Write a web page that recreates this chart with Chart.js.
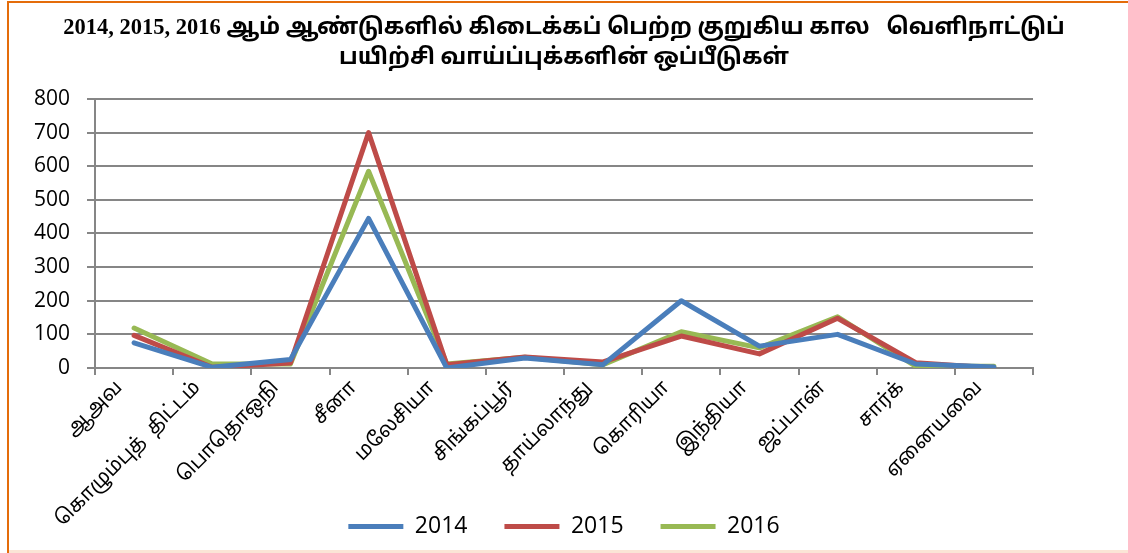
<!DOCTYPE html>
<html>
<head>
<meta charset="utf-8">
<script src="https://cdn.jsdelivr.net/npm/chart.js@4"></script>
<style>
html,body{margin:0;padding:0;background:#fff;}
#wrap{position:absolute;left:0;top:0;width:1128px;height:553px;}
</style>
</head>
<body>
<div id="wrap"><canvas id="c" width="1128" height="553"></canvas></div>
<script>
const titleLines = ["2014, 2015, 2016 ஆம் ஆண்டுகளில் கிடைக்கப் பெற்ற குறுகிய கால   வெளிநாட்டுப்", "பயிற்சி வாய்ப்புக்களின் ஒப்பீடுகள்"];
const categories = ["ஆஅவ", "கொழும்புத்  திட்டம்", "பொதொஒநி", "சீனா", "மலேசியா", "சிங்கப்பூர்", "தாய்லாந்து", "கொரியா", "இந்தியா", "ஜப்பான்", "சார்க்", "ஏனையவை"];
const seriesNames = ["2014", "2015", "2016"];
const values2014 = [75, 2, 25, 445, 0, 30, 10, 200, 65, 100, 12, 3];
const values2015 = [97, 2, 15, 700, 10, 33, 18, 95, 42, 148, 16, 0];
const values2016 = [119, 12, 12, 585, 12, 32, 10, 108, 60, 152, 5, 5];
const yTicks = [0, 100, 200, 300, 400, 500, 600, 700, 800];

const colors = ["#4A7EBB", "#BE4B48", "#98B954"];
const seriesValues = [values2014, values2015, values2016];

const PAD_BOTTOM = 5;

const framePlugin = {
  id: 'frame',
  beforeDraw(chart) {
    const ctx = chart.ctx;
    ctx.save();
    ctx.fillStyle = '#ffffff';
    ctx.fillRect(0, 0, chart.width, chart.height);
    ctx.strokeStyle = '#E46C0A';
    ctx.lineWidth = 2;
    ctx.beginPath();
    ctx.moveTo(8, 553);
    ctx.lineTo(8, 2);
    ctx.lineTo(1128, 2);
    ctx.stroke();
    ctx.strokeStyle = '#FBE5D6';
    ctx.lineWidth = 3;
    ctx.beginPath();
    ctx.moveTo(9, 551.5);
    ctx.lineTo(1128, 551.5);
    ctx.stroke();
    ctx.restore();
    // let the rotated category labels run past the legend's top edge, as in the original
    const xs = chart.scales.x;
    if (xs) {
      xs._computeLabelArea = function () {
        return { top: this.top, left: 0, bottom: chart.height, right: chart.width };
      };
    }
  }
};

new Chart(document.getElementById('c'), {
  type: 'line',
  data: {
    labels: categories,
    datasets: seriesNames.map((n, i) => ({
      label: n,
      data: seriesValues[i],
      borderColor: colors[i],
      backgroundColor: colors[i],
      borderWidth: 5,
      pointRadius: 0,
      pointHoverRadius: 0,
      tension: 0,
      borderCapStyle: 'round',
      borderJoinStyle: 'round',
      fill: false,
      yAxisID: 'y'
    }))
  },
  plugins: [framePlugin],
  options: {
    responsive: false,
    animation: false,
    layout: { padding: { left: 0, right: 0, top: 0, bottom: PAD_BOTTOM } },
    plugins: {
      title: {
        display: true,
        text: titleLines,
        color: '#000',
        font: { family: "'Liberation Serif', 'Noto Sans Tamil', serif", size: 22.5, weight: 'bold', lineHeight: 1.333 },
        padding: { top: 13, bottom: 26 }
      },
      legend: {
        position: 'bottom',
        labels: {
          color: '#000',
          font: { family: "'Open Sans', Lato, sans-serif", size: 23 },
          usePointStyle: true,
          pointStyle: 'line',
          pointStyleWidth: 55,
          boxHeight: 23,
          padding: 37
        }
      },
      tooltip: { enabled: false }
    },
    scales: {
      x: {
        offset: true,
        grid: { display: true, drawOnChartArea: false, drawTicks: true, tickLength: 7, color: '#868686', lineWidth: 2, offset: true },
        border: { display: true, color: '#868686', width: 2 },
        ticks: {
          color: '#000',
          font: { family: "'Noto Sans Tamil', 'Noto Sans', sans-serif", size: 20 },
          minRotation: 45, maxRotation: 45, autoSkip: false, padding: 2,
          labelOffset: -14
        },
        afterFit(scale) {
          const lg = scale.chart.legend ? scale.chart.legend.height : 70;
          scale.height = 553 - PAD_BOTTOM - lg - 368;
        }
      },
      y: {
        position: 'left',
        min: 0, max: 800,
        afterBuildTicks(scale) { scale.ticks = yTicks.map(v => ({ value: v })); },
        grid: { color: '#868686', lineWidth: 2, tickLength: 8 },
        border: { display: true, color: '#868686', width: 2 },
        ticks: {
          color: '#000',
          font: { family: "'Open Sans', Lato, sans-serif", size: 21 },
          padding: 17
        },
        afterFit(scale) { scale.width = 95; }
      },
      yR: {
        position: 'right',
        display: true,
        min: 0, max: 800,
        grid: { display: false, drawTicks: false },
        border: { display: false },
        ticks: { display: false },
        afterFit(scale) { scale.width = 1128 - 1033; }
      }
    }
  }
});
</script>
</body>
</html>
